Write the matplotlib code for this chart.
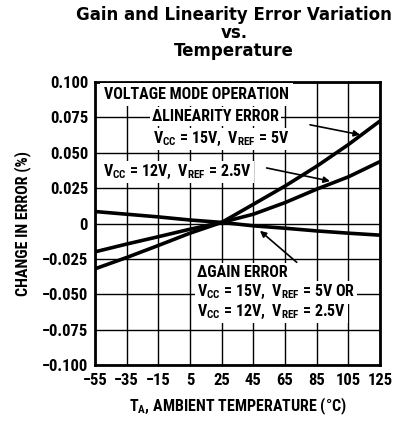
import numpy as np
import matplotlib
matplotlib.use("Agg")
import matplotlib.pyplot as plt

# fuente estrecha y negrita, parecida a la hoja de datos
FNT = ["Roboto Condensed", "DejaVu Sans"]
plt.rcParams["font.family"] = FNT
plt.rcParams["font.weight"] = "bold"
plt.rcParams["axes.labelweight"] = "bold"
plt.rcParams["mathtext.fontset"] = "custom"
plt.rcParams["mathtext.rm"] = "Roboto Condensed:bold"
plt.rcParams["mathtext.it"] = "Roboto Condensed:bold"
plt.rcParams["mathtext.bf"] = "Roboto Condensed:bold"

# =============================================================================
# DATOS
# =============================================================================
temps = [-55, -35, -15, 5, 25, 45, 65, 85, 105, 125]
lin_15v = [-0.032, -0.024, -0.0155, -0.0068, 0.0008, 0.0136, 0.0265, 0.0405, 0.0558, 0.0725]
lin_12v = [-0.020, -0.0145, -0.0093, -0.004, 0.0008, 0.0066, 0.0148, 0.0243, 0.033, 0.0438]
gain_err = [0.0085, 0.0066, 0.0047, 0.0025, 0.0008, -0.0016, -0.0033, -0.0052, -0.0068, -0.0082]

xticks = [-55, -35, -15, 5, 25, 45, 65, 85, 105, 125]
yticks = [-0.100, -0.075, -0.050, -0.025, 0, 0.025, 0.050, 0.075, 0.100]
ytick_labels = ["\u22120.100", "\u22120.075", "\u22120.050", "\u22120.025", "0",
                "0.025", "0.050", "0.075", "0.100"]
xtick_labels = [("\u2212%d" % -t) if t < 0 else str(t) for t in xticks]

# =============================================================================
# FIGURA
# =============================================================================
fig = plt.figure(figsize=(4.0, 4.21), dpi=100)
ax = fig.add_axes([0.2375, 0.133, 0.7125, 0.672])

ax.set_xlim(-55, 125)
ax.set_ylim(-0.1, 0.1)
ax.set_xticks(xticks)
ax.set_xticklabels(xtick_labels)
ax.set_yticks(yticks)
ax.set_yticklabels(ytick_labels)
ax.tick_params(length=0, labelsize=12)
ax.tick_params(axis="x", pad=6)
ax.tick_params(axis="y", pad=5)
ax.grid(True, color="black", linewidth=1.0, zorder=0)
ax.set_axisbelow(True)
for s in ax.spines.values():
    s.set_linewidth(2.0)

ax.plot(temps, lin_15v, color="black", linewidth=2.6, zorder=3)
ax.plot(temps, lin_12v, color="black", linewidth=2.6, zorder=3)
ax.plot(temps, gain_err, color="black", linewidth=2.6, zorder=3)

fs = 11.5
caja = dict(facecolor="white", edgecolor="none", pad=1.5)

ax.text(-49.3, 0.091, "VOLTAGE MODE OPERATION", fontsize=fs, va="center",
        ha="left", bbox=dict(facecolor="white", edgecolor="none", pad=3), zorder=4)
ax.text(-19, 0.0756, "\u0394LINEARITY ERROR", fontsize=fs, va="center",
        ha="left", bbox=caja, zorder=4)
ax.text(-18.4, 0.0595, "V$_{CC}$ = 15V,  V$_{REF}$ = 5V", fontsize=fs,
        va="center", ha="left", bbox=caja, zorder=4)
ax.text(-50, 0.0365, "V$_{CC}$ = 12V,  V$_{REF}$ = 2.5V", fontsize=fs,
        va="center", ha="left", bbox=caja, zorder=4)
ax.text(9.4, -0.0346, "\u0394GAIN ERROR", fontsize=fs, va="center",
        ha="left", bbox=caja, zorder=4)
ax.text(9.4, -0.0487, "V$_{CC}$ = 15V,  V$_{REF}$ = 5V OR", fontsize=fs,
        va="center", ha="left", bbox=caja, zorder=4)
ax.text(9.4, -0.0625, "V$_{CC}$ = 12V,  V$_{REF}$ = 2.5V", fontsize=fs,
        va="center", ha="left", bbox=caja, zorder=4)

flecha = dict(arrowstyle="-|>", color="black", linewidth=1.2,
              mutation_scale=9, shrinkA=0, shrinkB=0)
ax.annotate("", xy=(112.4, 0.0628), xytext=(80.8, 0.0698), arrowprops=flecha, zorder=5)
ax.annotate("", xy=(93.4, 0.030), xytext=(53.4, 0.0393), arrowprops=flecha, zorder=5)
ax.annotate("", xy=(49.2, -0.0051), xytext=(72.4, -0.0274), arrowprops=flecha, zorder=5)

ax.set_xlabel("T$_{A}$, AMBIENT TEMPERATURE (\u00b0C)", fontsize=11.5, labelpad=5)
ax.set_ylabel("CHANGE IN ERROR (%)", fontsize=11.5, labelpad=8)

fig.text(0.585, 0.985, "Gain and Linearity Error Variation\nvs.\nTemperature",
         ha="center", va="top", fontsize=12, fontweight="bold",
         family=["DejaVu Sans"], linespacing=1.0)

fig.savefig("out.png", dpi=100)
